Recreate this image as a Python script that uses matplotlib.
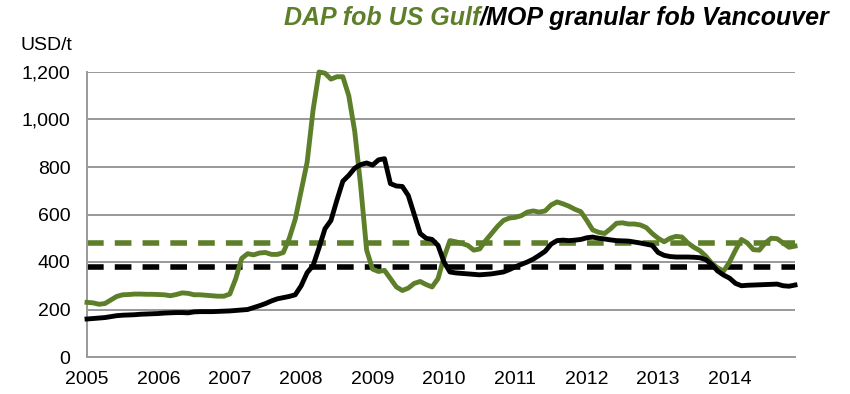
import matplotlib
matplotlib.use("Agg")
import matplotlib.pyplot as plt
from matplotlib.ticker import FuncFormatter

plt.rcParams['font.family'] = ['Liberation Sans', 'DejaVu Sans']

# monthly prices, Jan 2005 - Dec 2014, USD/t
years = ['2005', '2006', '2007', '2008', '2009', '2010', '2011', '2012', '2013', '2014']

dap = [230, 228, 222, 225, 240, 255, 262, 263, 265, 265, 264, 264,
       263, 262, 258, 263, 270, 268, 262, 262, 260, 258, 256, 256,
       265, 330, 415, 435, 430, 438, 440, 432, 432, 440, 500, 580,
       700, 820, 1040, 1200, 1195, 1170, 1180, 1180, 1100, 950, 720, 450,
       370, 360, 365, 330, 295, 280, 290, 310, 318, 305, 295, 330,
       420, 490, 485, 478, 470, 450, 455, 490, 520, 550, 575, 585,
       588, 595, 610, 615, 610, 615, 640, 653, 645, 635, 622, 612,
       575, 535, 525, 520, 540, 563, 565, 560, 560, 556, 545, 520,
       500, 485, 500, 508, 505, 480, 462, 448, 425, 395, 375, 362,
       400, 450, 495, 480, 452, 450, 480, 500, 498, 480, 462, 467]

mop = [160, 162, 164, 166, 170, 174, 176, 177, 178, 180, 181, 182,
       183, 185, 186, 187, 187, 186, 190, 191, 191, 191, 192, 193,
       194, 196, 198, 200, 208, 216, 225, 236, 245, 250, 255, 262,
       300, 355, 385, 460, 540, 575, 660, 740, 765, 795, 810, 817,
       808, 830, 835, 730, 720, 718, 680, 600, 520, 500, 495, 470,
       400, 358, 354, 352, 350, 348, 346, 348, 350, 354, 358, 368,
       380, 390, 400, 412, 428, 445, 475, 490, 492, 490, 492, 495,
       502, 505, 500, 497, 493, 490, 489, 488, 484, 480, 475, 470,
       440, 428, 423, 421, 421, 421, 420, 418, 410, 390, 362, 345,
       332, 310, 300, 302, 303, 304, 305, 306, 307, 300, 298, 303]

dap_avg = 480
mop_avg = 380

green = '#5E7F2A'
grey = '#999999'

fig = plt.figure(figsize=(8.5, 3.94), dpi=100)
ax = fig.add_axes([87 / 850, 37 / 394, 708 / 850, 285 / 394])

months = list(range(len(dap)))
ax.set_xlim(0, len(dap) - 1)
ax.set_ylim(0, 1200)

ax.set_yticks(range(0, 1201, 200))
ax.yaxis.set_major_formatter(FuncFormatter(lambda v, p: f'{int(v):,}'))
ax.set_xticks([12 * i for i in range(len(years))])
ax.set_xticklabels(years)
ax.tick_params(axis='both', length=0, labelsize=14, colors='black')
ax.tick_params(axis='y', pad=12)
ax.tick_params(axis='x', pad=10)

ax.grid(axis='y', color=grey, linewidth=1.4)
ax.set_axisbelow(True)
for side in ['top', 'right']:
    ax.spines[side].set_visible(False)
for side in ['left', 'bottom']:
    ax.spines[side].set_color(grey)
    ax.spines[side].set_linewidth(1.4)

ax.axhline(dap_avg, color=green, linewidth=4, dashes=(3, 2), zorder=2)
ax.axhline(mop_avg, color='black', linewidth=4, dashes=(3, 2), zorder=2)
ax.plot(months, dap, color=green, linewidth=3.5, zorder=3, clip_on=False)
ax.plot(months, mop, color='black', linewidth=3.5, zorder=4, clip_on=False)

fig.text(20 / 850, 1 - 45 / 394, 'USD/t', fontsize=14, va='center', ha='left')

# two-colour title, right aligned
t2 = fig.text(830 / 850, 1 - 18 / 394, '/MOP granular fob Vancouver', fontsize=18,
              fontweight='bold', fontstyle='italic', color='black', ha='right', va='center')
fig.canvas.draw()
bb = t2.get_window_extent()
fig.text(bb.x0 / 850, 1 - 18 / 394, 'DAP fob US Gulf', fontsize=18,
         fontweight='bold', fontstyle='italic', color=green, ha='right', va='center')

fig.savefig('out.png', dpi=100)
